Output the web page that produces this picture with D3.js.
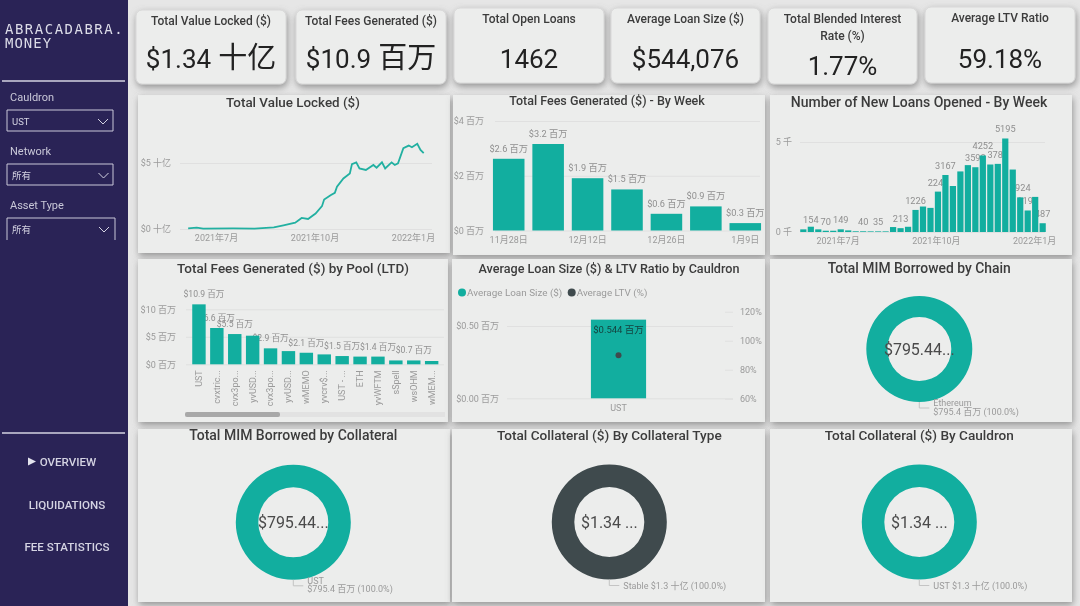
<!DOCTYPE html>
<html>
<head>
<meta charset="utf-8">
<style>
  html, body { margin: 0; padding: 0; background: #e4e4e4; overflow: hidden; }
  svg { display: block; filter: blur(0.35px); }
  text { font-family: Roboto, "Noto Sans CJK SC", sans-serif; }
  .axis .domain { display: none; }
  .axis line { stroke: #e0e0e0; }
  .axis text { fill: #9a9a9a; font-size: 9px; }
  .lbl { fill: #8f8f8f; font-size: 9.2px; text-anchor: middle; }
  .pool-lbl { font-size: 8.6px; }
  .title { fill: #3c3c3c; font-weight: 500; text-anchor: middle; }
</style>
<script src="https://cdn.jsdelivr.net/npm/d3@7"></script>
</head>
<body>
<script>
const teal = "#12ae9f";
const dark = "#3f4a4d";
const navy = "#2a2356";

// KPI cards
const kpiTitles = ["Total Value Locked ($)", "Total Fees Generated ($)", "Total Open Loans", "Average Loan Size ($)", "Total Blended Interest|Rate (%)", "Average LTV Ratio"];
const kpiNumbers = ["$1.34", "$10.9", "1462", "$544,076", "1.77%", "59.18%"];
const kpiUnits = ["十亿", "百万", "", "", "", ""];

// TVL line, $ billions
const tvlDates = ["2021-06-05", "2021-06-13", "2021-06-19", "2021-07-17", "2021-08-06", "2021-08-24", "2021-09-02", "2021-09-13", "2021-09-19", "2021-09-25", "2021-10-02", "2021-10-08", "2021-10-10", "2021-10-16", "2021-10-20", "2021-10-22", "2021-10-28", "2021-11-03", "2021-11-05", "2021-11-09", "2021-11-12", "2021-11-18", "2021-11-25", "2021-11-28", "2021-12-03", "2021-12-06", "2021-12-12", "2021-12-15", "2021-12-18", "2021-12-23", "2021-12-28", "2021-12-31", "2022-01-05", "2022-01-08", "2022-01-11"];
const tvlValues = [0.05, 0.10, 0.03, 0.05, 0.03, 0.13, 0.28, 0.48, 0.84, 0.76, 1.17, 1.73, 2.23, 2.56, 2.74, 3.2, 3.83, 4.21, 4.92, 5.05, 4.59, 4.47, 4.85, 4.64, 5.05, 4.59, 5.05, 4.85, 4.97, 6.12, 6.32, 6.19, 6.45, 5.99, 5.74];

// fees by week, $ millions
const feeWeeks = ["11月28日", "12月5日", "12月12日", "12月19日", "12月26日", "1月2日", "1月9日"];
const feeValues = [2.62, 3.16, 1.91, 1.5, 0.61, 0.88, 0.27];
const feeTicks = ["11月28日", "12月12日", "12月26日", "1月9日"];

// new loans by week, 33 weeks from 2021-05-30
const loanFirstWeek = new Date(2021, 4, 30);
const loanLastWeek = new Date(2022, 0, 9);
const loanCounts = [147, 294, 147, 70, 70, 149, 90, 40, 40, 35, 35, 35, 275, 213, 290, 1226, 1415, 1340, 2244, 3167, 2555, 3365, 3715, 3598, 4252, 3750, 3785, 5195, 3470, 1924, 1195, 1950, 487];
const loanLabelIndex = [1, 3, 5, 8, 10, 13, 15, 18, 19, 23, 24, 26, 27, 29, 30, 32];
const loanLabelValue = [154, 70, 149, 40, 35, 213, 1226, 2244, 3167, 3598, 4252, 3785, 5195, 1924, 1195, 487];

// fees by pool, $ millions
const poolNames = ["UST", "cvxtric...", "cvx3po...", "yvUSD...", "cvx3po...", "yvUSD...", "wMEMO", "yvcrv$...", "UST - ...", "ETH", "yvWFTM", "sSpell", "wsOHM", "wMEM..."];
const poolValues = [10.9, 6.6, 5.5, 5.2, 2.9, 2.4, 2.1, 1.8, 1.5, 1.4, 1.4, 0.7, 0.7, 0.6];
const poolLabelIndex = [0, 1, 2, 4, 6, 8, 10, 12];

// average loan size and LTV
const cauldrons = ["UST"];
const avgLoanValues = [0.544];
const avgLtvValues = [90];

// sidebar
const slicerNames = ["Cauldron", "Network", "Asset Type"];
const slicerValues = ["UST", "所有", "所有"];
const navItems = ["OVERVIEW", "LIQUIDATIONS", "FEE STATISTICS"];

const svg = d3.select("body").append("svg")
  .attr("width", 1080)
  .attr("height", 606)
  .attr("viewBox", "0 0 1080 606");

const shadow = svg.append("defs").append("filter")
  .attr("id", "shadow")
  .attr("x", "-10%").attr("y", "-15%").attr("width", "120%").attr("height", "135%");
shadow.append("feDropShadow")
  .attr("dx", 1).attr("dy", 3).attr("stdDeviation", 3.5)
  .attr("flood-color", "#707070").attr("flood-opacity", 0.7);

svg.append("rect").attr("width", 1080).attr("height", 606).attr("fill", "#e6e6e6");

function card(x, y, w, h, r) {
  svg.append("rect")
    .attr("x", x).attr("y", y).attr("width", w).attr("height", h).attr("rx", r)
    .attr("fill", "#ecedec")
    .attr("stroke", r ? "#d8d8d8" : "none")
    .attr("filter", "url(#shadow)");
}

function title(text, x, y, size) {
  svg.append("text").attr("class", "title")
    .attr("x", x).attr("y", y).attr("font-size", size).text(text);
}

// ---- panels behind the charts
[[138, 95, 312, 158], [453, 95, 312, 160], [770, 95, 302, 160],
 [138, 259, 310, 163], [452, 259, 313, 163], [770, 259, 302, 163],
 [138, 429, 312, 173], [452, 429, 313, 173], [770, 429, 302, 173]]
  .forEach(p => card(p[0], p[1], p[2], p[3], 0));

// ---- KPI cards
const kpiBoxes = [[136, 10, 150, 74], [296, 10, 150, 74], [454, 8, 150, 75], [611, 8, 149, 75], [768, 8, 149, 76], [925, 7, 150, 76]];
kpiBoxes.forEach((b, i) => {
  card(b[0], b[1], b[2], b[3], 6);
  const cx = b[0] + b[2] / 2;
  kpiTitles[i].split("|").forEach((t, j) => {
    svg.append("text")
      .attr("x", cx).attr("y", b[1] + 15 + j * 17)
      .attr("text-anchor", "middle")
      .attr("font-size", 12).attr("font-weight", 500).attr("fill", "#3c3c3c")
      .text(t);
  });
  const value = svg.append("text")
    .attr("x", cx).attr("y", i === 4 ? 75 : 68)
    .attr("text-anchor", "middle")
    .attr("font-size", 26).attr("fill", "#222")
    .text(kpiNumbers[i]);
  if (kpiUnits[i]) {
    value.append("tspan").attr("dx", 7).attr("font-size", 29).text(kpiUnits[i]);
  }
});

// ---- sidebar
svg.append("rect").attr("width", 128).attr("height", 606).attr("fill", navy);
svg.append("text").attr("x", 5).attr("y", 34)
  .style("font-family", "'DejaVu Sans Mono'")
  .attr("font-size", 14).attr("letter-spacing", 1.5).attr("fill", "#dcdce8")
  .text("ABRACADABRA.");
svg.append("text").attr("x", 5).attr("y", 48)
  .style("font-family", "'DejaVu Sans Mono'")
  .attr("font-size", 14).attr("letter-spacing", 1).attr("fill", "#dcdce8")
  .text("MONEY");
[81, 433].forEach(y => {
  svg.append("line").attr("x1", 2).attr("x2", 125).attr("y1", y).attr("y2", y)
    .attr("stroke", "#d4d3e2").attr("stroke-width", 1.5);
});
slicerNames.forEach((name, i) => {
  const top = [110, 164, 218][i];
  const w = i === 2 ? 108 : 106;
  svg.append("text").attr("x", 10).attr("y", top - 9)
    .attr("font-size", 11).attr("fill", "#c9c8d8").text(name);
  // last slicer is cut off by the sidebar clip, no bottom edge
  svg.append("path")
    .attr("d", i === 2
      ? `M7,${top + 22}V${top}H${7 + w}V${top + 22}`
      : `M7,${top}H${7 + w}V${top + 21}H7Z`)
    .attr("fill", "none").attr("stroke", "#c9c8d8").attr("stroke-width", 1);
  svg.append("text").attr("x", 12).attr("y", top + 15)
    .attr("font-size", 9.5).attr("fill", "#d4d3e2").text(slicerValues[i]);
  svg.append("path")
    .attr("d", `M${98 + i / 2},${top + 9}l5,5l5,-5`)
    .attr("fill", "none").attr("stroke", "#d4d3e2").attr("stroke-width", 1);
});
svg.append("path").attr("d", "M28,457.5L36,461.5L28,465.5Z").attr("fill", "#e4e4ee");
navItems.forEach((item, i) => {
  svg.append("text")
    .attr("x", i === 0 ? 68 : 67).attr("y", 466 + i * 42.7)
    .attr("text-anchor", "middle")
    .attr("font-size", 11.6).attr("font-weight", 500).attr("fill", "#d4d3e2")
    .text(item);
});

// ---- Total Value Locked
title("Total Value Locked ($)", 293, 107, 13.4);
{
  const x = d3.scaleTime().domain([new Date(2021, 6, 1), new Date(2022, 0, 1)]).range([216, 413]);
  const y = d3.scaleLinear().domain([0, 5]).range([229, 163]);
  svg.append("g").attr("class", "axis").attr("transform", "translate(180,0)")
    .call(d3.axisLeft(y).tickValues([0, 5]).tickSize(-252).tickPadding(9).tickFormat(d => `$${d} 十亿`));
  svg.append("g").attr("class", "axis").attr("transform", "translate(0,229)")
    .call(d3.axisBottom(x).tickValues([new Date(2021, 6, 1), new Date(2021, 9, 1), new Date(2022, 0, 1)])
      .tickSize(0).tickPadding(6).tickFormat(d => `${d.getFullYear()}年${d.getMonth() + 1}月`));
  const line = d3.line().x(d => x(d[0])).y(d => y(d[1]));
  svg.append("path")
    .datum(tvlDates.map((d, i) => [new Date(d + "T00:00:00"), tvlValues[i]]))
    .attr("d", line).attr("fill", "none").attr("stroke", "#22b0a1").attr("stroke-width", 1.8);
}

// ---- Fees by week
title("Total Fees Generated ($) - By Week", 607, 105, 12.5);
{
  const x = d3.scaleBand().domain(feeWeeks).range([489, 765]).paddingInner(0.2).paddingOuter(0.1);
  const y = d3.scaleLinear().domain([0, 4]).range([230.5, 121]);
  svg.append("g").attr("class", "axis").attr("transform", "translate(495,0)")
    .call(d3.axisLeft(y).tickValues([0, 2, 4]).tickSize(-265).tickPadding(11).tickFormat(d => `$${d} 百万`));
  svg.append("g").attr("class", "axis").attr("transform", "translate(0,230.5)")
    .call(d3.axisBottom(x).tickValues(feeTicks).tickSize(0).tickPadding(6));
  svg.selectAll(".fee-bar").data(feeValues).enter().append("rect")
    .attr("class", "fee-bar")
    .attr("x", (d, i) => x(feeWeeks[i])).attr("width", x.bandwidth())
    .attr("y", d => y(d)).attr("height", d => y(0) - y(d))
    .attr("fill", teal);
  svg.selectAll(".fee-lbl").data(feeValues).enter().append("text")
    .attr("class", "lbl fee-lbl")
    .attr("x", (d, i) => x(feeWeeks[i]) + x.bandwidth() / 2)
    .attr("y", d => y(d) - 7)
    .text(d => `$${d.toFixed(1)} 百万`);
}

// ---- New loans by week
title("Number of New Loans Opened - By Week", 919, 107, 14);
{
  const x = d3.scaleBand().domain(d3.range(loanCounts.length)).range([799.6, 1046.4]).paddingInner(0.17).paddingOuter(0.085);
  const y = d3.scaleLinear().domain([0, 5000]).range([232, 142]);
  const t = d3.scaleTime().domain([loanFirstWeek, loanLastWeek])
    .range([x(0) + x.bandwidth() / 2, x(loanCounts.length - 1) + x.bandwidth() / 2]);
  svg.append("g").attr("class", "axis").attr("transform", "translate(800,0)")
    .call(d3.axisLeft(y).tickValues([0, 5000]).tickSize(-245).tickPadding(8).tickFormat(d => `${d / 1000} 千`));
  svg.append("g").attr("class", "axis").attr("transform", "translate(0,232)")
    .call(d3.axisBottom(t).tickValues([new Date(2021, 6, 1), new Date(2021, 9, 1), new Date(2022, 0, 1)])
      .tickSize(0).tickPadding(6).tickFormat(d => `${d.getFullYear()}年${d.getMonth() + 1}月`));
  // labels sit under the bars, the neighbours cut them off
  svg.selectAll(".loan-lbl").data(loanLabelValue).enter().append("text")
    .attr("class", "lbl loan-lbl")
    .attr("x", (d, i) => x(loanLabelIndex[i]) + x.bandwidth() / 2)
    .attr("y", d => y(d) - 6)
    .text(d => d);
  svg.selectAll(".loan-bar").data(loanCounts).enter().append("rect")
    .attr("class", "loan-bar")
    .attr("x", (d, i) => x(i)).attr("width", x.bandwidth())
    .attr("y", d => y(d)).attr("height", d => y(0) - y(d))
    .attr("fill", teal);
}

// ---- Fees by pool
title("Total Fees Generated ($) by Pool (LTD)", 293, 273, 13.5);
{
  const x = d3.scaleBand().domain(d3.range(poolValues.length)).range([190, 440.6]).paddingInner(0.25).paddingOuter(0.125);
  const y = d3.scaleLinear().domain([0, 10]).range([364.3, 309.3]);
  svg.append("g").attr("class", "axis").attr("transform", "translate(186,0)")
    .call(d3.axisLeft(y).tickValues([0, 5, 10]).tickSize(-258).tickPadding(10).tickFormat(d => `$${d} 百万`));
  const xAxis = svg.append("g").attr("class", "axis").attr("transform", "translate(0,364.3)")
    .call(d3.axisBottom(x).tickSize(0).tickFormat(i => poolNames[i]));
  xAxis.selectAll("text")
    .attr("transform", "rotate(-90)")
    .attr("x", -6).attr("y", 0).attr("dy", "0.32em")
    .attr("text-anchor", "end");
  svg.selectAll(".pool-lbl").data(poolLabelIndex).enter().append("text")
    .attr("class", "lbl pool-lbl")
    .attr("x", d => x(d) + x.bandwidth() / 2 + (d === 0 ? 5 : 0))
    .attr("y", d => y(poolValues[d]) - 7)
    .text(d => `$${poolValues[d].toFixed(1)} 百万`);
  svg.selectAll(".pool-bar").data(poolValues).enter().append("rect")
    .attr("class", "pool-bar")
    .attr("x", (d, i) => x(i)).attr("width", x.bandwidth())
    .attr("y", d => y(d)).attr("height", d => y(0) - y(d))
    .attr("fill", teal);
  svg.append("rect").attr("x", 185).attr("y", 412).attr("width", 260).attr("height", 5).attr("fill", "#e2e2e2");
  svg.append("rect").attr("x", 185).attr("y", 412).attr("width", 95).attr("height", 5).attr("rx", 2).attr("fill", "#a8a8a8");
}

// ---- Loan size & LTV
title("Average Loan Size ($) & LTV Ratio by Cauldron", 609, 273, 12.6);
{
  const x = d3.scaleBand().domain(cauldrons).range([505, 732]).padding(0.609);
  const y = d3.scaleLinear().domain([0, 0.5]).range([398.3, 326]);
  const yLtv = d3.scaleLinear().domain([60, 120]).range([398.7, 311.7]);
  svg.append("g").attr("class", "axis").attr("transform", "translate(507,0)")
    .call(d3.axisLeft(y).tickValues([0, 0.5]).tickSize(-226).tickPadding(8).tickFormat(d => `$${d.toFixed(2)} 百万`));
  const right = svg.append("g").attr("class", "axis").attr("transform", "translate(733,0)")
    .call(d3.axisRight(yLtv).tickValues([60, 80, 100, 120]).tickSize(0).tickPadding(7).tickFormat(d => `${d}%`));
  right.selectAll("line").attr("x1", -8).attr("x2", 0).attr("stroke", "#e4e4e4");
  svg.append("g").attr("class", "axis").attr("transform", "translate(0,398.3)")
    .call(d3.axisBottom(x).tickSize(0).tickPadding(6));
  svg.selectAll(".loan-size").data(avgLoanValues).enter().append("rect")
    .attr("class", "loan-size")
    .attr("x", (d, i) => x(cauldrons[i])).attr("width", x.bandwidth())
    .attr("y", d => y(d)).attr("height", d => y(0) - y(d))
    .attr("fill", teal);
  svg.selectAll(".loan-size-lbl").data(avgLoanValues).enter().append("text")
    .attr("x", (d, i) => x(cauldrons[i]) + x.bandwidth() / 2)
    .attr("y", d => y(d) + 13)
    .attr("text-anchor", "middle").attr("font-size", 9.5).attr("fill", "#153f3c")
    .text(d => `$${d.toFixed(3)} 百万`);
  svg.selectAll(".ltv").data(avgLtvValues).enter().append("circle")
    .attr("class", "ltv")
    .attr("cx", (d, i) => x(cauldrons[i]) + x.bandwidth() / 2)
    .attr("cy", d => yLtv(d))
    .attr("r", 3).attr("fill", dark);

  const legend = [["Average Loan Size ($)", teal, 462], ["Average LTV (%)", dark, 571.7]];
  legend.forEach(l => {
    svg.append("circle").attr("cx", l[2]).attr("cy", 292.5).attr("r", 4).attr("fill", l[1]);
    svg.append("text").attr("x", l[2] + 5).attr("y", 296)
      .attr("font-size", 9.9).attr("fill", "#9a9a9a").text(l[0]);
  });
}

// ---- donuts
const donuts = [
  { name: "Total MIM Borrowed by Chain", titleSize: 13.9, titleY: 273, cx: 919.3, cy: 349, outer: 53, inner: 32, color: teal, center: "$795.44...", value: 795.4, lines: ["Ethereum", "$795.4 百万 (100.0%)"] },
  { name: "Total MIM Borrowed by Collateral", titleSize: 14, titleY: 440, cx: 293.3, cy: 522.3, outer: 57.5, inner: 35, color: teal, center: "$795.44...", value: 795.4, lines: ["UST", "$795.4 百万 (100.0%)"] },
  { name: "Total Collateral ($) By Collateral Type", titleSize: 13.6, titleY: 440, cx: 609.3, cy: 522, outer: 57.5, inner: 35, color: dark, center: "$1.34 ...", value: 1.3, lines: ["Stable $1.3 十亿 (100.0%)"] },
  { name: "Total Collateral ($) By Cauldron", titleSize: 13.6, titleY: 440, cx: 919.3, cy: 522, outer: 57.5, inner: 35, color: teal, center: "$1.34 ...", value: 1.3, lines: ["UST $1.3 十亿 (100.0%)"] }
];
donuts.forEach(c => {
  title(c.name, c.cx, c.titleY, c.titleSize);
  const arc = d3.arc().innerRadius(c.inner).outerRadius(c.outer);
  const g = svg.append("g").attr("transform", `translate(${c.cx},${c.cy})`);
  g.selectAll("path").data(d3.pie()([c.value])).enter().append("path")
    .attr("d", arc).attr("fill", c.color);
  g.append("text")
    .attr("y", 6).attr("text-anchor", "middle")
    .attr("font-size", 16).attr("fill", "#4a4a4a")
    .text(c.center);
  const two = c.lines.length === 2;
  const legY = c.outer + 6;
  g.append("path")
    .attr("d", `M0,${c.outer}V${legY}H10`)
    .attr("fill", "none").attr("stroke", "#c4c4c4");
  c.lines.forEach((t, i) => {
    g.append("text")
      .attr("x", 14).attr("y", legY + (two ? i * 8.5 - 2 : 3))
      .attr("font-size", 9).attr("fill", "#9a9a9a")
      .text(t);
  });
});
</script>
</body>
</html>
